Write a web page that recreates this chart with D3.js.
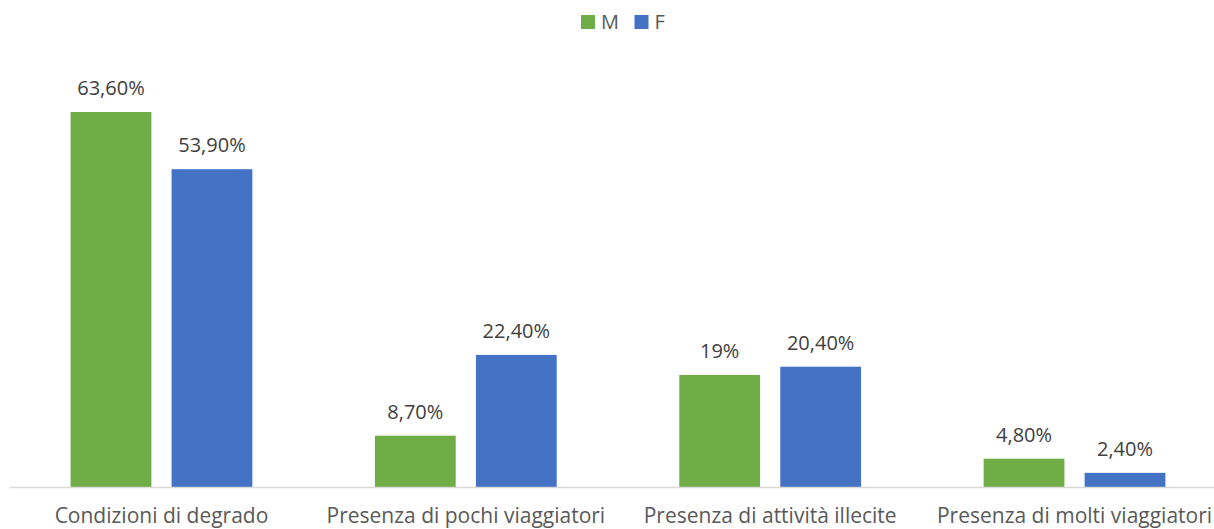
<!DOCTYPE html>
<html>
<head>
<meta charset="utf-8">
<script src="https://cdn.jsdelivr.net/npm/d3@7"></script>
<style>
  html, body { margin: 0; padding: 0; background: #fff; overflow: hidden; }
  svg { display: block; font-family: "Open Sans", sans-serif; }
</style>
</head>
<body>
<svg id="chart" width="1214" height="529"></svg>
<script>
// Data
const categories = ['Condizioni di degrado', 'Presenza di pochi viaggiatori', 'Presenza di attività illecite', 'Presenza di molti viaggiatori'];
const seriesNames = ['M', 'F'];
const valuesM = [63.6, 8.7, 19, 4.8];
const valuesF = [53.9, 22.4, 20.4, 2.4];
const labelsM = ['63,60%', '8,70%', '19%', '4,80%'];
const labelsF = ['53,90%', '22,40%', '20,40%', '2,40%'];

const colors = { M: '#70AD47', F: '#4472C4' };
const textColor = '#595959';

const svg = d3.select('#chart');
const baseline = 487;

const x0 = d3.scaleBand()
  .domain(categories)
  .range([9.3, 1226.7])
  .padding(0);

const x1 = d3.scaleBand()
  .domain(seriesNames)
  .range([0, x0.bandwidth()])
  .paddingInner(0.2)
  .paddingOuter(0.607);

// 63.6 -> y 112
const y = d3.scaleLinear()
  .domain([0, 63.6])
  .range([baseline, 112]);

const data = categories.map((c, i) => ({
  cat: c,
  bars: [
    { key: 'M', value: valuesM[i], label: labelsM[i] },
    { key: 'F', value: valuesF[i], label: labelsF[i] }
  ]
}));

// bars
const groups = svg.selectAll('.group')
  .data(data)
  .enter().append('g')
  .attr('class', 'group')
  .attr('transform', d => `translate(${x0(d.cat)},0)`);

groups.selectAll('rect')
  .data(d => d.bars)
  .enter().append('rect')
  .attr('x', d => x1(d.key))
  .attr('width', x1.bandwidth())
  .attr('y', d => y(d.value))
  .attr('height', d => baseline - y(d.value))
  .attr('fill', d => colors[d.key]);

groups.selectAll('.val')
  .data(d => d.bars)
  .enter().append('text')
  .attr('class', 'val')
  .attr('x', d => x1(d.key) + x1.bandwidth() / 2)
  .attr('y', d => y(d.value) - 17)
  .attr('text-anchor', 'middle')
  .style('font-size', '20px')
  .style('fill', '#404040')
  .text(d => d.label);

// x axis
const xAxis = svg.append('g')
  .attr('transform', `translate(0,${baseline})`)
  .call(d3.axisBottom(x0).tickSize(0).tickSizeOuter(0));
xAxis.select('.domain').attr('stroke', '#d9d9d9').attr('stroke-width', 1.3);
xAxis.selectAll('text')
  .attr('dy', null)
  .attr('y', 36)
  .style('font-family', '"Open Sans", sans-serif')
  .style('font-size', '21px')
  .style('fill', textColor);

// legend
const legend = svg.append('g').attr('transform', 'translate(581,15)');
const legendX = { M: 0, F: 53.5 };
const items = legend.selectAll('.legend-item')
  .data(seriesNames)
  .enter().append('g')
  .attr('class', 'legend-item')
  .attr('transform', d => `translate(${legendX[d]},0)`);
items.append('rect')
  .attr('width', 14)
  .attr('height', 14)
  .attr('fill', d => colors[d]);
items.append('text')
  .attr('x', 20)
  .attr('y', 14)
  .style('font-size', '20px')
  .style('fill', textColor)
  .text(d => d);
</script>
</body>
</html>
